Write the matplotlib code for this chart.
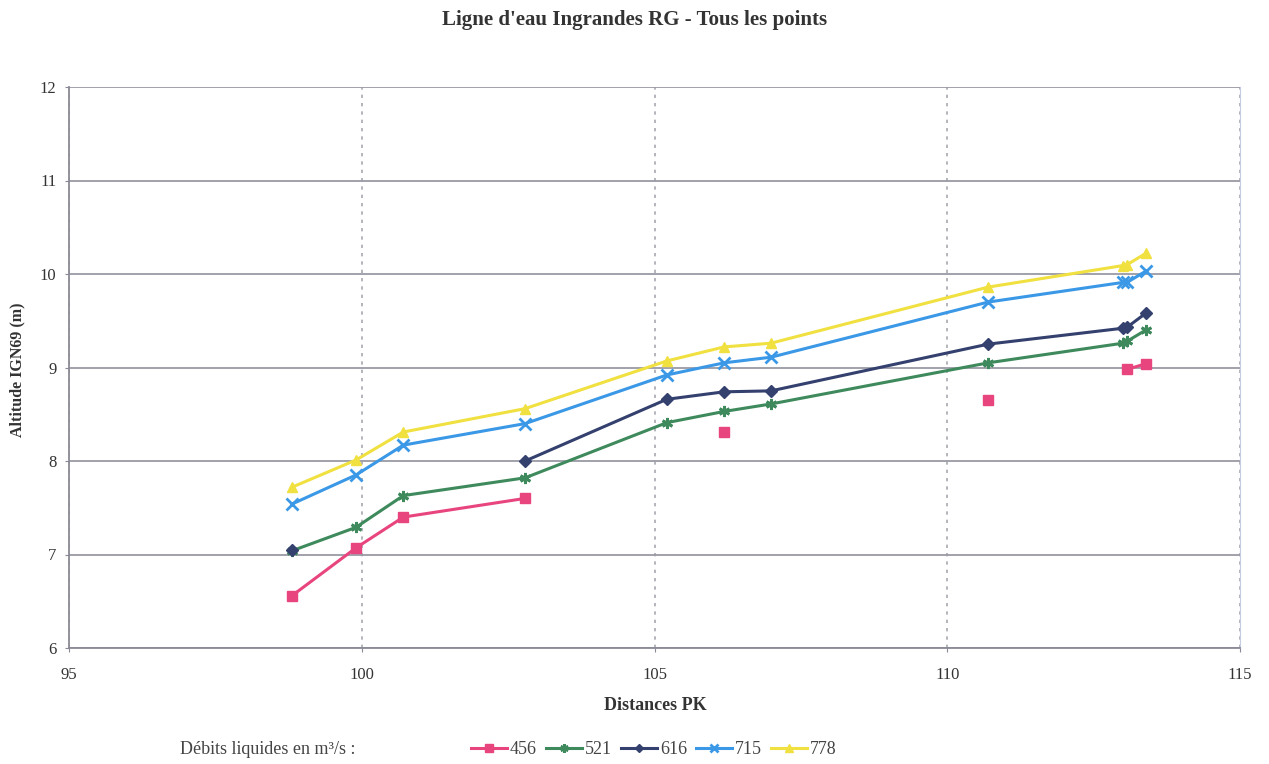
import numpy as np
import matplotlib
matplotlib.use("Agg")
import matplotlib.pyplot as plt

plt.rcParams['font.family'] = ['Liberation Serif', 'DejaVu Serif']

title = "Ligne d'eau Ingrandes RG - Tous les points"
xlabel = "Distances PK"
ylabel = "Altitude IGN69 (m)"
legend_title = "Débits liquides en m³/s :"

pk = [98.81, 99.90, 100.71, 102.79, 105.21, 106.19, 106.99, 110.70, 113.00, 113.07, 113.39]
nan = np.nan
q456 = [6.56, 7.07, 7.40, 7.60, nan, 8.31, nan, 8.65, nan, 8.98, 9.04]
q521 = [7.04, 7.29, 7.63, 7.82, 8.41, 8.53, 8.61, 9.05, 9.26, 9.28, 9.40]
q616 = [7.05, nan, nan, 8.00, 8.66, 8.74, 8.75, 9.25, 9.42, 9.43, 9.58]
q715 = [7.54, 7.85, 8.17, 8.40, 8.92, 9.05, 9.11, 9.70, 9.91, 9.91, 10.03]
q778 = [7.72, 8.01, 8.31, 8.56, 9.07, 9.22, 9.26, 9.86, 10.09, 10.10, 10.22]
series_labels = ["456", "521", "616", "715", "778"]

colors = ["#E8457F", "#3E8A5C", "#34406E", "#3A98E6", "#F0E040"]
markers = ["s", (6, 2, 0), "D", "x", "^"]
msizes = [7.5, 8, 6, 8, 7.5]

fig = plt.figure(figsize=(12.69, 7.64), dpi=100)
ax = fig.add_axes([69/1269, 1-648/764, (1240-69)/1269, (648-87)/764])

series = [q456, q521, q616, q715, q778]
handles = []
for ys, lab, c, m, ms in zip(series, series_labels, colors, markers, msizes):
    ln, = ax.plot(pk, ys, color=c, lw=2.2, marker=m, ms=ms,
                  mew=2 if m in ("x", (6, 2, 0)) else 1,
                  mec=c, mfc=c, label=lab, zorder=3)
    handles.append(ln)

ax.set_xlim(95, 115)
ax.set_ylim(6, 12)
ax.set_xticks([95, 100, 105, 110, 115])
ax.set_yticks([6, 7, 8, 9, 10, 11, 12])
ax.yaxis.grid(True, color="#9a9aa6", lw=1.3, ls="-")
ax.xaxis.grid(True, color="#a8a8b0", lw=1.2, ls=(0, (2, 3)))
ax.set_axisbelow(True)
ax.spines["top"].set_visible(False)
ax.spines["right"].set_color("#c8cce0")
ax.spines["left"].set_color("#8a8a96")
ax.spines["bottom"].set_color("#8a8a96")
ax.spines["left"].set_linewidth(1.3)
ax.spines["bottom"].set_linewidth(1.3)
ax.tick_params(axis="both", length=3, color="#8a8a96", labelsize=12, labelcolor="#333333")
ax.tick_params(axis="x", pad=11)
ax.tick_params(axis="y", pad=6)

fig.text(0.5, 1-20/764, title, ha="center", va="center", fontsize=15, fontweight="bold", color="#333333")
fig.text(655/1269, 1-705/764, xlabel, ha="center", va="center", fontsize=13, fontweight="bold", color="#333333")
fig.text(17/1269, 1-370/764, ylabel, ha="center", va="center", rotation=90, fontsize=11.5,
         fontweight="bold", color="#333333")
fig.text(180/1269, 1-749/764, legend_title, ha="left", va="center", fontsize=13, color="#444444")

leg = fig.legend(handles=handles, labels=series_labels, loc="center left",
                 bbox_to_anchor=(455/1269, 1-750/764), ncol=5, frameon=False,
                 handlelength=2.0, handletextpad=0.15, columnspacing=0.5, fontsize=13,
                 markerscale=0.75)
for t in leg.get_texts():
    t.set_color("#444444")

fig.savefig("out.png", dpi=100, facecolor="white")
